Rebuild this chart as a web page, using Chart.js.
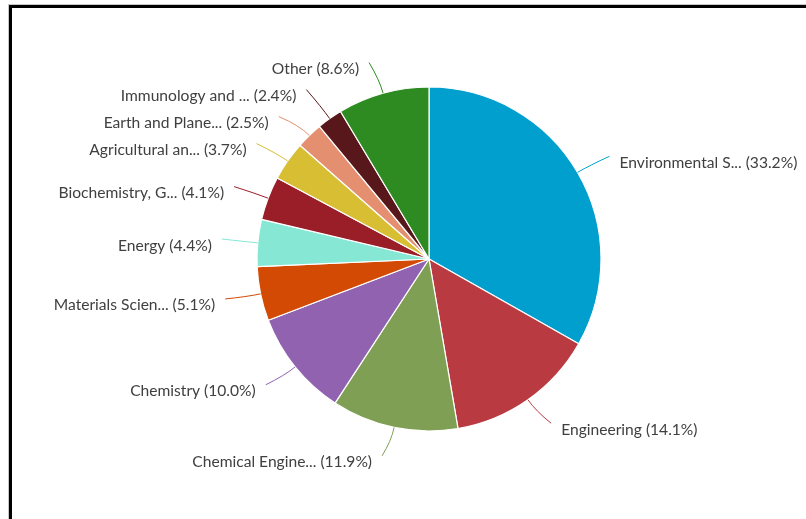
<!DOCTYPE html>
<html>
<head>
<meta charset="utf-8">
<script src="https://cdn.jsdelivr.net/npm/chart.js@4.4.1/dist/chart.umd.min.js"></script>
<style>
  html, body { margin: 0; padding: 0; background: #fff; width: 806px; height: 519px; overflow: hidden; }
  .frame-outer { position: absolute; left: 8px; top: 4px; right: -10px; bottom: -10px;
                 border-top: 1px solid #c8c8c8; border-left: 1px solid #c8c8c8; }
  .frame-inner { position: absolute; left: 0; top: 0; right: 0; bottom: 0;
                 border-top: 3px solid #000; border-left: 3px solid #000; }
  #wrap { position: absolute; left: 0; top: 0; width: 806px; height: 519px; }
</style>
</head>
<body>
<div class="frame-outer"><div class="frame-inner"></div></div>
<div id="wrap"><canvas id="pieChart"></canvas></div>
<script>
const LABELS = [
  "Environmental S...",
  "Engineering",
  "Chemical Engine...",
  "Chemistry",
  "Materials Scien...",
  "Energy",
  "Biochemistry, G...",
  "Agricultural an...",
  "Earth and Plane...",
  "Immunology and ...",
  "Other",
];
const VALUES = [33.2, 14.1, 11.9, 10.0, 5.1, 4.4, 4.1, 3.7, 2.5, 2.4, 8.6];
const COLORS = [
  "#009fce", "#b93a40", "#7f9f55", "#9162af", "#d24a04", "#86e8d4",
  "#9a1e28", "#d8be33", "#e38f70", "#58181b", "#2e8b22",
];

const FONT       = "15.6px Lato";
const TEXT_COLOR = "#404040";
const LABEL_DIST = 30;   // distance from pie edge to label circle
const TEXT_GAP   = 16;   // label circle -> text
const MIN_SPACE  = 27;   // vertical spacing between labels

// outside labels with curved connectors
const outsideLabels = {
  id: "outsideLabels",
  afterDatasetsDraw(chart) {
    const ctx  = chart.ctx;
    const arcs = chart.getDatasetMeta(0).data;
    const items = arcs.map((arc, i) => {
      const mid = (arc.startAngle + arc.endAngle) / 2;
      const r   = arc.outerRadius;
      const R   = r + LABEL_DIST;
      return {
        i, mid, r, R, cx: arc.x, cy: arc.y,
        right: Math.cos(mid) >= 0,
        y: arc.y + Math.sin(mid) * R + 4,
      };
    });

    // push overlapping labels apart on each side
    [true, false].forEach(side => {
      const list = items.filter(it => it.right === side).sort((a, b) => a.y - b.y);
      for (let pass = 0; pass < 50; pass++) {
        let moved = false;
        for (let k = 1; k < list.length; k++) {
          const gap = list[k].y - list[k - 1].y;
          if (gap < MIN_SPACE) {
            const d = (MIN_SPACE - gap) / 2;
            list[k - 1].y -= d;
            list[k].y += d;
            moved = true;
          }
        }
        if (!moved) break;
      }
    });

    ctx.save();
    ctx.font = FONT;
    ctx.textBaseline = "middle";
    items.forEach(it => {
      const sign  = it.right ? 1 : -1;
      const dyGeo = it.y - 4 - it.cy;
      const dxY   = Math.sqrt(Math.max(it.R * it.R - dyGeo * dyGeo, 0));
      const dxA   = Math.abs(Math.cos(it.mid) * it.R);
      const xR    = it.cx + sign * Math.max(dxY, dxA);
      const xText = xR + sign * TEXT_GAP;

      const sx = it.cx + Math.cos(it.mid) * it.r;
      const sy = it.cy + Math.sin(it.mid) * it.r;
      const qx = it.cx + Math.cos(it.mid) * (it.r + 14);
      const qy = it.cy + Math.sin(it.mid) * (it.r + 14);
      const ex = xText - sign * 10;
      const ey = it.y - 5;

      ctx.beginPath();
      ctx.moveTo(sx, sy);
      ctx.quadraticCurveTo(qx, qy, ex, ey);
      ctx.strokeStyle = COLORS[it.i];
      ctx.lineWidth = 1;
      ctx.stroke();

      ctx.fillStyle = TEXT_COLOR;
      ctx.textAlign = it.right ? "left" : "right";
      ctx.fillText(`${LABELS[it.i]} (${VALUES[it.i].toFixed(1)}%)`, xText, it.y + 1.5);
    });
    ctx.restore();
  },
};

function initChart() {
  const ctx = document.getElementById("pieChart").getContext("2d");
  new Chart(ctx, {
    type: "pie",
    data: {
      labels: LABELS,
      datasets: [{
        data: VALUES,
        backgroundColor: COLORS,
        borderColor: "#ffffff",
        borderWidth: 1.2,
      }],
    },
    options: {
      responsive: false,
      animation: false,
      radius: 172,
      layout: { padding: { left: 52, right: 0, top: 0, bottom: 1 } },
      plugins: {
        legend:  { display: false },
        tooltip: { enabled: false },
      },
    },
    plugins: [outsideLabels],
  });
}

window.addEventListener("DOMContentLoaded", () => {
  const c = document.getElementById("pieChart");
  c.width = 806;
  c.height = 519;
  c.style.width = "806px";
  c.style.height = "519px";
  initChart();
});
</script>
</body>
</html>
